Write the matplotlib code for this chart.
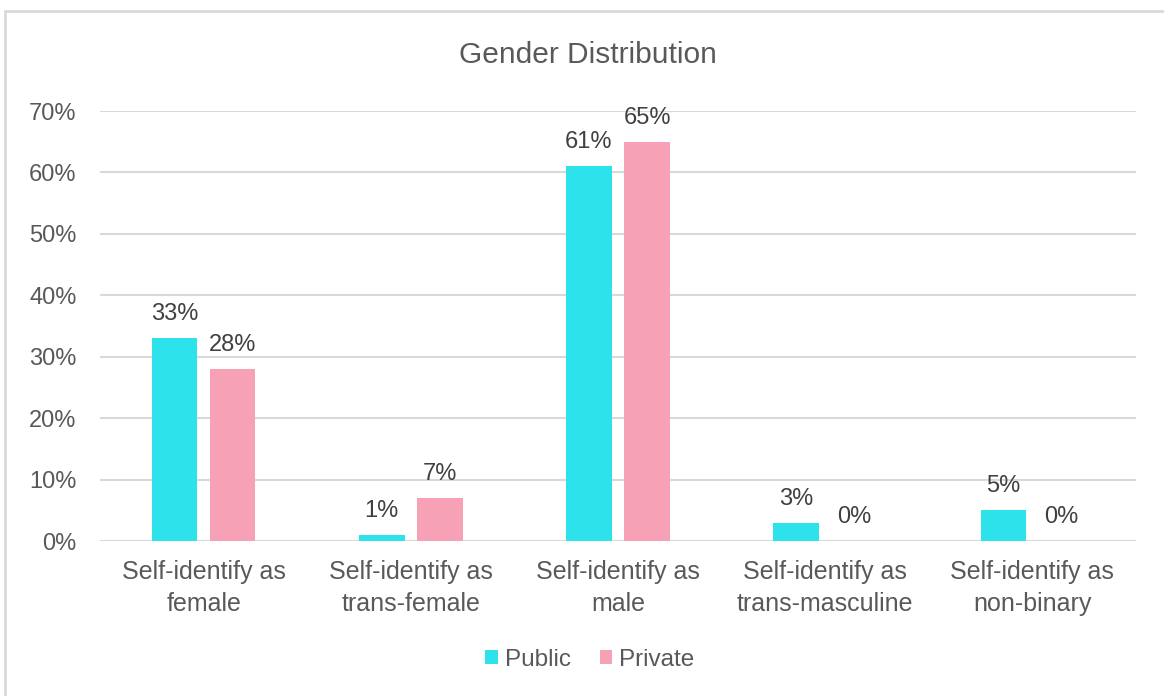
import matplotlib
matplotlib.use("Agg")
import matplotlib.pyplot as plt
from matplotlib.patches import Rectangle
from matplotlib.ticker import FuncFormatter
import numpy as np

plt.rcParams['font.family'] = ['Liberation Sans', 'DejaVu Sans']

categories = ["Self-identify as\nfemale", "Self-identify as\ntrans-female",
              "Self-identify as\nmale", "Self-identify as\ntrans-masculine",
              "Self-identify as\nnon-binary"]
public = [33, 1, 61, 3, 5]
private = [28, 7, 65, 0, 0]
series_names = ["Public", "Private"]
colors = ["#2DE2EA", "#F7A1B6"]
text_color = "#595959"

fig = plt.figure(figsize=(11.64, 6.96), dpi=100)
fig.patch.set_facecolor("white")
# chart frame
fig.add_artist(Rectangle((5/1164, -0.05), 1.2, 1 - 11/696 + 0.05,
                         transform=fig.transFigure, fill=False,
                         edgecolor="#D9D9D9", linewidth=2))

ax = fig.add_axes([100/1164, 1 - 541/696, 1036/1164, 430/696])
x = np.arange(len(categories))
w = 0.22
gap = 0.06
off = (w + gap) / 2
b1 = ax.bar(x - off, public, w, color=colors[0], label=series_names[0], zorder=3)
b2 = ax.bar(x + off, private, w, color=colors[1], label=series_names[1], zorder=3)

for bars, vals in ((b1, public), (b2, private)):
    for rect, v in zip(bars, vals):
        ax.text(rect.get_x() + rect.get_width() / 2, v + 2.1, f"{v}%",
                ha="center", va="bottom", fontsize=17, color="#404040")

ax.set_xlim(-0.5, len(categories) - 0.5)
ax.set_ylim(0, 70)
ax.set_yticks(np.arange(0, 71, 10))
ax.yaxis.set_major_formatter(FuncFormatter(lambda v, p: f"{int(v)}%"))
ax.grid(axis="y", color="#D9D9D9", linewidth=1.5, zorder=0)
for s in ax.spines.values():
    s.set_visible(False)
ax.tick_params(axis="both", length=0, labelcolor=text_color)
ax.tick_params(axis="y", pad=17, labelsize=17)
ax.tick_params(axis="x", pad=14, labelsize=18)
ax.set_xticks(x)
ax.set_xticklabels(categories, linespacing=1.4)

fig.text(588/1164, 1 - 55/696, "Gender Distribution", ha="center", va="center",
         fontsize=21.5, color=text_color)

leg = fig.legend(loc="center", bbox_to_anchor=(590/1164, 1 - 660/696), ncol=2,
                 frameon=False, fontsize=17.5, handlelength=0.5, handleheight=0.5,
                 handletextpad=0.3, columnspacing=1.2)
for t in leg.get_texts():
    t.set_color(text_color)

fig.savefig("out.png", dpi=100, facecolor="white")
